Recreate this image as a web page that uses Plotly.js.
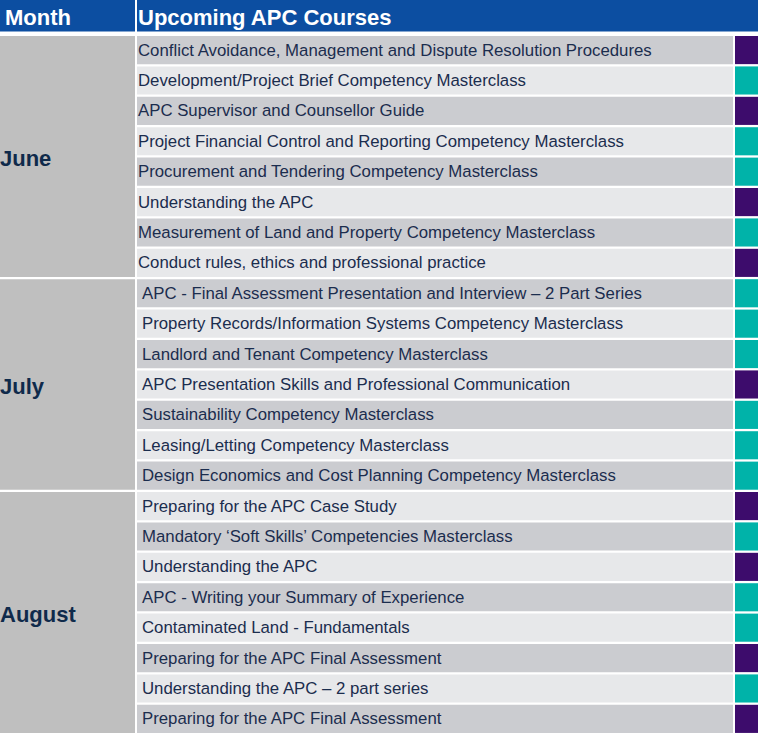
<!DOCTYPE html>
<html><head><meta charset="utf-8">
<script src="https://cdn.plot.ly/plotly-3.0.1.min.js"></script>
<style>html,body{margin:0;padding:0;background:#fff;}#chart{width:758px;height:733px;}</style>
</head><body><div id="chart"></div>
<script>
const headers = ['Month', 'Upcoming APC Courses'];
const months = ['June', 'July', 'August'];
const monthCounts = [8, 7, 8];
const courses = [
  'Conflict Avoidance, Management and Dispute Resolution Procedures',
  'Development/Project Brief Competency Masterclass',
  'APC Supervisor and Counsellor Guide',
  'Project Financial Control and Reporting Competency Masterclass',
  'Procurement and Tendering Competency Masterclass',
  'Understanding the APC',
  'Measurement of Land and Property Competency Masterclass',
  'Conduct rules, ethics and professional practice',
  'APC - Final Assessment Presentation and Interview \u2013 2 Part Series',
  'Property Records/Information Systems Competency Masterclass',
  'Landlord and Tenant Competency Masterclass',
  'APC Presentation Skills and Professional Communication',
  'Sustainability Competency Masterclass',
  'Leasing/Letting Competency Masterclass',
  'Design Economics and Cost Planning Competency Masterclass',
  'Preparing for the APC Case Study',
  'Mandatory \u2018Soft Skills\u2019 Competencies Masterclass',
  'Understanding the APC',
  'APC - Writing your Summary of Experience',
  'Contaminated Land - Fundamentals',
  'Preparing for the APC Final Assessment',
  'Understanding the APC \u2013 2 part series',
  'Preparing for the APC Final Assessment'
];
const courseType = ['P','T','P','T','T','P','T','P',
                    'T','T','T','P','T','T','T',
                    'P','T','P','T','T','P','T','P'];

// ---- styling / layout constants ----
const W = 758, H = 733;
const pitch = 30.4;           // px per row
const yTop = -1.147;          // axis value at top pixel
const yBottom = yTop + H / pitch;
const rowW = 0.925;
const col = {monthX0: 0, monthX1: 135, courseX0: 137, courseX1: 733, typeX0: 735, typeX1: 758};
const C = {
  header: '#0c4ea1', month: '#bfbfbf', dark: '#cbccd0', light: '#e7e8ea',
  P: '#3d0c6c', T: '#00b3a9', text: '#1b2d4e', monthText: '#0f2a4b'
};
const font = 'Liberation Sans, Arial, sans-serif';

const n = courses.length;
const idx = courses.map((_, i) => i);
const rowGroup = [];
monthCounts.forEach((c, g) => { for (let k = 0; k < c; k++) rowGroup.push(g); });
const groupStart = monthCounts.map((c, g) => monthCounts.slice(0, g).reduce((a, b) => a + b, 0));

const traces = [];
// header
const headerY0 = yTop - 0.1, headerY1 = -0.111;
traces.push({
  type: 'bar', orientation: 'h',
  y: [(headerY0 + headerY1) / 2, (headerY0 + headerY1) / 2],
  base: [col.monthX0, col.courseX0],
  x: [col.monthX1 - col.monthX0, col.typeX1 - col.courseX0],
  width: [headerY1 - headerY0, headerY1 - headerY0],
  marker: {color: C.header}, hoverinfo: 'skip'
});
// month cells
traces.push({
  type: 'bar', orientation: 'h',
  y: months.map((m, g) => groupStart[g] + monthCounts[g] / 2),
  base: months.map(() => col.monthX0),
  x: months.map(() => col.monthX1 - col.monthX0),
  width: monthCounts.map(c => c - (1 - rowW)),
  marker: {color: C.month}, hoverinfo: 'skip'
});
// course cells
traces.push({
  type: 'bar', orientation: 'h',
  y: idx.map(i => i + 0.5),
  base: idx.map(() => col.courseX0),
  x: idx.map(() => col.courseX1 - col.courseX0),
  width: idx.map(() => rowW),
  marker: {color: idx.map(i => i % 2 === 0 ? C.dark : C.light)}, hoverinfo: 'skip'
});
// type cells
traces.push({
  type: 'bar', orientation: 'h',
  y: idx.map(i => i + 0.5),
  base: idx.map(() => col.typeX0),
  x: idx.map(() => col.typeX1 - col.typeX0),
  width: idx.map(() => rowW),
  marker: {color: courseType.map(t => C[t])}, hoverinfo: 'skip'
});

const annotations = [];
const hY = (headerY0 + headerY1) / 2 + 0.1;
const ann = {xanchor: 'left', yanchor: 'middle', showarrow: false, borderpad: 0, borderwidth: 0};
annotations.push(Object.assign({x: 5, y: hY, text: '<b>' + headers[0] + '</b>', font: {family: font, size: 22, color: '#ffffff'}}, ann));
annotations.push(Object.assign({x: 138, y: hY, text: '<b>' + headers[1] + '</b>', font: {family: font, size: 22, color: '#ffffff'}}, ann));
months.forEach((m, g) => {
  annotations.push(Object.assign({x: 0, y: groupStart[g] + monthCounts[g] / 2 + 0.07, text: '<b>' + m + '</b>', font: {family: font, size: 22, color: C.monthText}}, ann));
});
courses.forEach((c, i) => {
  annotations.push(Object.assign({x: rowGroup[i] === 0 ? 138 : 142, y: i + 0.5, text: c, font: {family: font, size: 16.8, color: C.text}}, ann));
});

const layout = {
  width: W, height: H, margin: {l: 0, r: 0, t: 0, b: 0},
  paper_bgcolor: '#ffffff', plot_bgcolor: '#ffffff',
  showlegend: false, barmode: 'overlay',
  xaxis: {range: [0, W], visible: false, fixedrange: true},
  yaxis: {range: [yBottom, yTop], visible: false, fixedrange: true},
  annotations: annotations
};
Plotly.newPlot('chart', traces, layout, {staticPlot: true, displayModeBar: false});
</script></body></html>
